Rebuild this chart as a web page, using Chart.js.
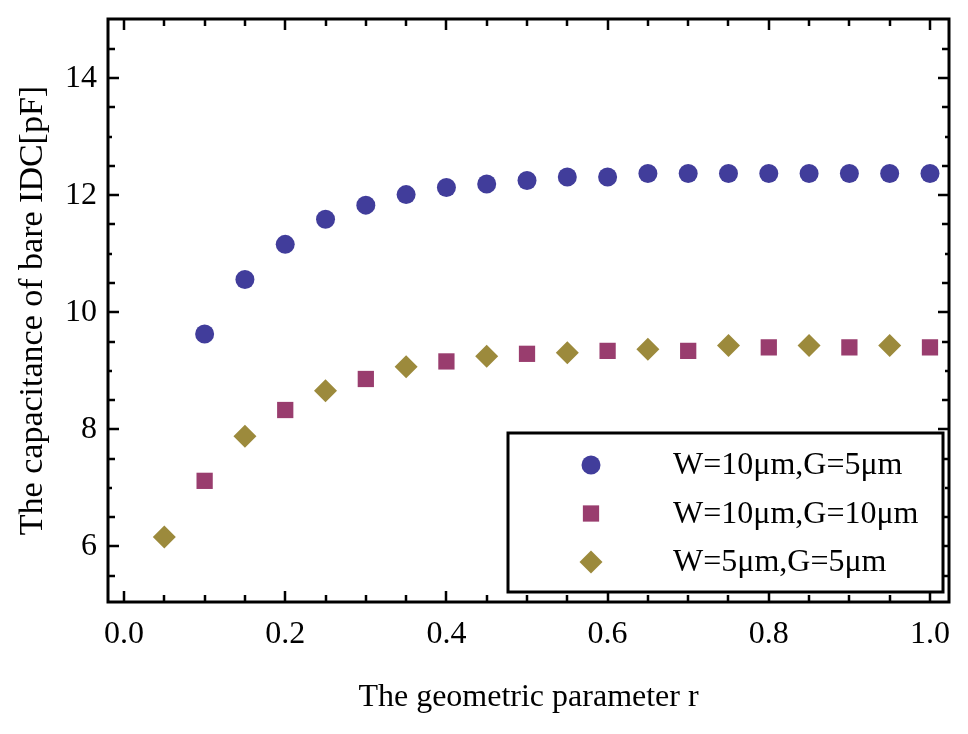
<!DOCTYPE html>
<html>
<head>
<meta charset="utf-8">
<script src="https://cdn.jsdelivr.net/npm/chart.js@4/dist/chart.umd.min.js"></script>
<style>
html,body{margin:0;padding:0;background:#fff;}
#wrap{width:968px;height:734px;position:relative;}
canvas{display:block;}
</style>
</head>
<body>
<div id="wrap"><canvas id="c" width="968" height="734"></canvas></div>
<script>
// ---- data ----
const rSeriesA = [0.10,0.15,0.20,0.25,0.30,0.35,0.40,0.45,0.50,0.55,0.60,0.65,0.70,0.75,0.80,0.85,0.90,0.95,1.00];
const capSeriesA = [9.63,10.56,11.16,11.59,11.83,12.01,12.13,12.19,12.25,12.31,12.31,12.37,12.37,12.37,12.37,12.37,12.37,12.37,12.37];

const rSeriesB = [0.1,0.2,0.3,0.4,0.5,0.6,0.7,0.8,0.9,1.0];
const capSeriesB = [7.12,8.33,8.86,9.16,9.29,9.34,9.34,9.40,9.40,9.40];

const rSeriesC = [0.05,0.15,0.25,0.35,0.45,0.55,0.65,0.75,0.85,0.95];
const capSeriesC = [6.16,7.88,8.66,9.07,9.25,9.31,9.37,9.43,9.43,9.43];

const seriesLabels = ["W=10μm,G=5μm","W=10μm,G=10μm","W=5μm,G=5μm"];
const xTickValues = [0.0,0.2,0.4,0.6,0.8,1.0];
const yTickValues = [6,8,10,12,14];
const xTitle = "The geometric parameter r";
const yTitle = "The capacitance of bare IDC[pF]";

const FONT = "'Liberation Serif','Times New Roman',serif";

function pts(xs, ys){ return xs.map((x,i)=>({x:x,y:ys[i]})); }

// frame with inward ticks on all four sides
const framePlugin = {
  id:'frameTicks',
  afterDraw(chart){
    const {ctx, chartArea:a, scales} = chart;
    const xs = scales.x, ys = scales.y;
    ctx.save();
    ctx.strokeStyle = '#000';
    ctx.lineWidth = 2.5;
    ctx.lineCap = 'butt';
    ctx.beginPath();
    for(let k=0;k<=20;k++){
      const v = k*0.05;
      const len = (k%4===0) ? 11 : 7;
      const px = Math.round(xs.getPixelForValue(v));
      ctx.moveTo(px, a.bottom); ctx.lineTo(px, a.bottom-len);
      ctx.moveTo(px, a.top); ctx.lineTo(px, a.top+len);
    }
    for(let k=11;k<=29;k++){
      const v = k*0.5;
      if (v < ys.min || v > ys.max - 0.1) continue;
      let len = 7;
      if (v%2===0) len = 11; else if (v%1===0) len = 4;
      const py = Math.round(ys.getPixelForValue(v));
      ctx.moveTo(a.left, py); ctx.lineTo(a.left+len, py);
      ctx.moveTo(a.right, py); ctx.lineTo(a.right-len, py);
    }
    ctx.stroke();
    ctx.lineWidth = 3;
    ctx.strokeRect(a.left, a.top, a.right-a.left, a.bottom-a.top);
    ctx.restore();
  }
};

function drawMarker(ctx, style, x, y, r, color){
  ctx.fillStyle = color;
  ctx.beginPath();
  if (style === 'circle'){
    ctx.arc(x, y, r, 0, Math.PI*2);
  } else if (style === 'rect'){
    const h = r*Math.SQRT1_2;
    ctx.rect(x-h, y-h, 2*h, 2*h);
  } else {
    ctx.moveTo(x-r, y); ctx.lineTo(x, y-r); ctx.lineTo(x+r, y); ctx.lineTo(x, y+r); ctx.closePath();
  }
  ctx.fill();
}

// boxed legend inside the plot area
const legendPlugin = {
  id:'boxLegend',
  afterDraw(chart){
    const {ctx, chartArea:a} = chart;
    const L = a.right-441, T = a.bottom-169, R = a.right-6, B = a.bottom-10;
    ctx.save();
    ctx.fillStyle = '#fff';
    ctx.fillRect(L, T, R-L, B-T);
    ctx.lineWidth = 3;
    ctx.strokeStyle = '#000';
    ctx.strokeRect(L, T, R-L, B-T);
    const rows = [T+32, T+80.5, T+129];
    chart.data.datasets.forEach((ds,i)=>{
      drawMarker(ctx, ds.pointStyle, L+83, rows[i], ds.pointRadius, ds.backgroundColor);
      ctx.fillStyle = '#000';
      ctx.font = "32px " + FONT;
      ctx.textBaseline = 'alphabetic';
      ctx.textAlign = 'left';
      ctx.fillText(ds.label, L+165, rows[i]+9);
    });
    ctx.restore();
  }
};

new Chart(document.getElementById('c'), {
  type:'scatter',
  data:{
    datasets:[
      {label:seriesLabels[0], data:pts(rSeriesA, capSeriesA), pointStyle:'circle', pointRadius:9.5, pointHoverRadius:9.5, backgroundColor:'#413d9b', borderWidth:0},
      {label:seriesLabels[1], data:pts(rSeriesB, capSeriesB), pointStyle:'rect', pointRadius:11.5, pointHoverRadius:11.5, backgroundColor:'#993d6e', borderWidth:0},
      {label:seriesLabels[2], data:pts(rSeriesC, capSeriesC), pointStyle:'rectRot', pointRadius:11.5, pointHoverRadius:11.5, backgroundColor:'#9c8a3c', borderWidth:0}
    ]
  },
  options:{
    responsive:false,
    animation:false,
    events:[],
    devicePixelRatio:1,
    layout:{padding:{left:0, top:19, right:19, bottom:0}},
    plugins:{legend:{display:false}, tooltip:{enabled:false}},
    scales:{
      x:{
        type:'linear', min:-0.0199, max:1.0236,
        afterBuildTicks:(s)=>{ s.ticks = xTickValues.map(v=>({value:v})); },
        afterFit:(s)=>{ s.height = 132; s.paddingLeft = 0; s.paddingRight = 0; },
        grid:{display:false, drawTicks:false},
        border:{display:false},
        ticks:{autoSkip:false, maxRotation:0, color:'#000', padding:13, font:{family:FONT, size:32},
               callback:(v)=>Number(v).toFixed(1)},
        title:{display:true, text:xTitle, color:'#000', font:{family:FONT, size:32}, padding:{top:0, bottom:17}}
      },
      y:{
        type:'linear', min:5.05, max:15.01,
        afterBuildTicks:(s)=>{ s.ticks = yTickValues.map(v=>({value:v})); },
        afterFit:(s)=>{ s.width = 108; s.paddingTop = 0; s.paddingBottom = 0; },
        grid:{display:false, drawTicks:false},
        border:{display:false},
        ticks:{autoSkip:false, color:'#000', padding:11, font:{family:FONT, size:32},
               callback:(v)=>String(v)},
        title:{display:true, text:yTitle, color:'#000', font:{family:FONT, size:34}, padding:{top:13, bottom:0}}
      }
    }
  },
  plugins:[framePlugin, legendPlugin]
});
</script>
</body>
</html>
